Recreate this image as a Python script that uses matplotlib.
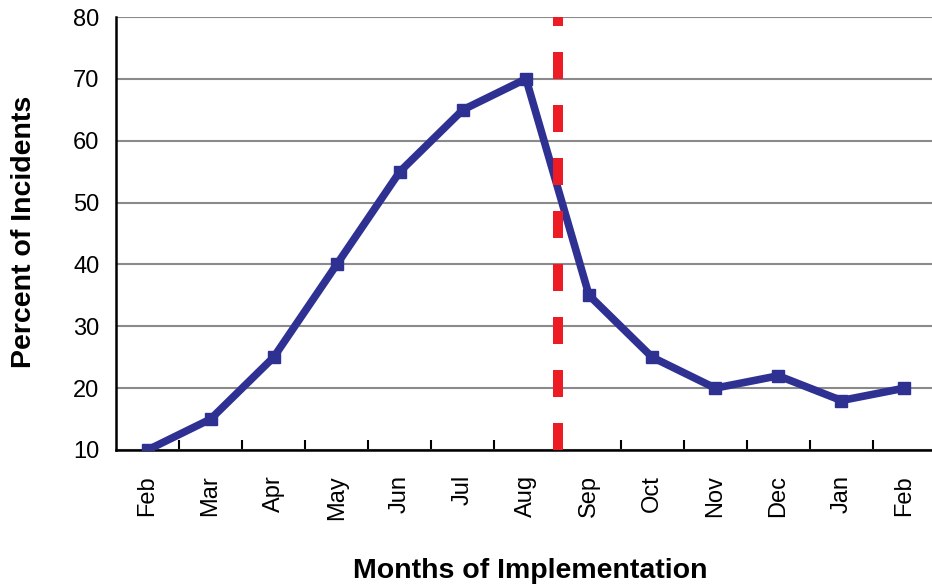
import matplotlib
matplotlib.use('Agg')
import matplotlib.pyplot as plt
import numpy as np

months = ['Feb', 'Mar', 'Apr', 'May', 'Jun', 'Jul', 'Aug', 'Sep', 'Oct', 'Nov', 'Dec', 'Jan', 'Feb']
percent = [10, 15, 25, 40, 55, 65, 70, 35, 25, 20, 22, 18, 20]
implementation_at = 6.5

plt.rcParams['font.family'] = ['Liberation Sans', 'DejaVu Sans']

fig = plt.figure(figsize=(9.32, 5.87), dpi=100)
ax = fig.add_axes([116 / 932, 137 / 587, 820 / 932, 433 / 587])

x = np.arange(len(months))
ax.plot(x, percent, color='#2e3192', lw=5.5, marker='s', markersize=9, zorder=3)
ax.plot([implementation_at, implementation_at], [10, 80], color='#ed1c24', lw=7.2,
        dashes=(2.7, 2.6), solid_capstyle='butt', zorder=4)

ax.set_xlim(-0.5, len(months) - 0.5)
ax.set_ylim(10, 80)
ax.set_yticks(range(10, 81, 10))
ax.yaxis.grid(True, color='#8a8a8a', lw=1.5)
ax.set_axisbelow(True)

ax.set_xticks(x)
ax.set_xticklabels(months, rotation=90, fontsize=17)
ax.set_xticks(np.arange(0.5, len(months) - 0.5, 1), minor=True)
ax.tick_params(axis='x', which='major', length=0, pad=18)
ax.tick_params(axis='x', which='minor', direction='in', length=7, width=1.5, color='black')
ax.tick_params(axis='y', length=0, pad=12, labelsize=17)

for s in ['top', 'right']:
    ax.spines[s].set_visible(False)
ax.spines['left'].set_linewidth(1.8)
ax.spines['bottom'].set_linewidth(1.8)

fig.text(24 / 932, 1 - 232 / 587, 'Percent of Incidents', rotation=90, ha='center', va='center',
         fontsize=20.5, fontweight='bold')
fig.text(530 / 932, 1 - 571 / 587, 'Months of Implementation', ha='center', va='center',
         fontsize=20.5, fontweight='bold')

fig.savefig('out.png', dpi=100)
